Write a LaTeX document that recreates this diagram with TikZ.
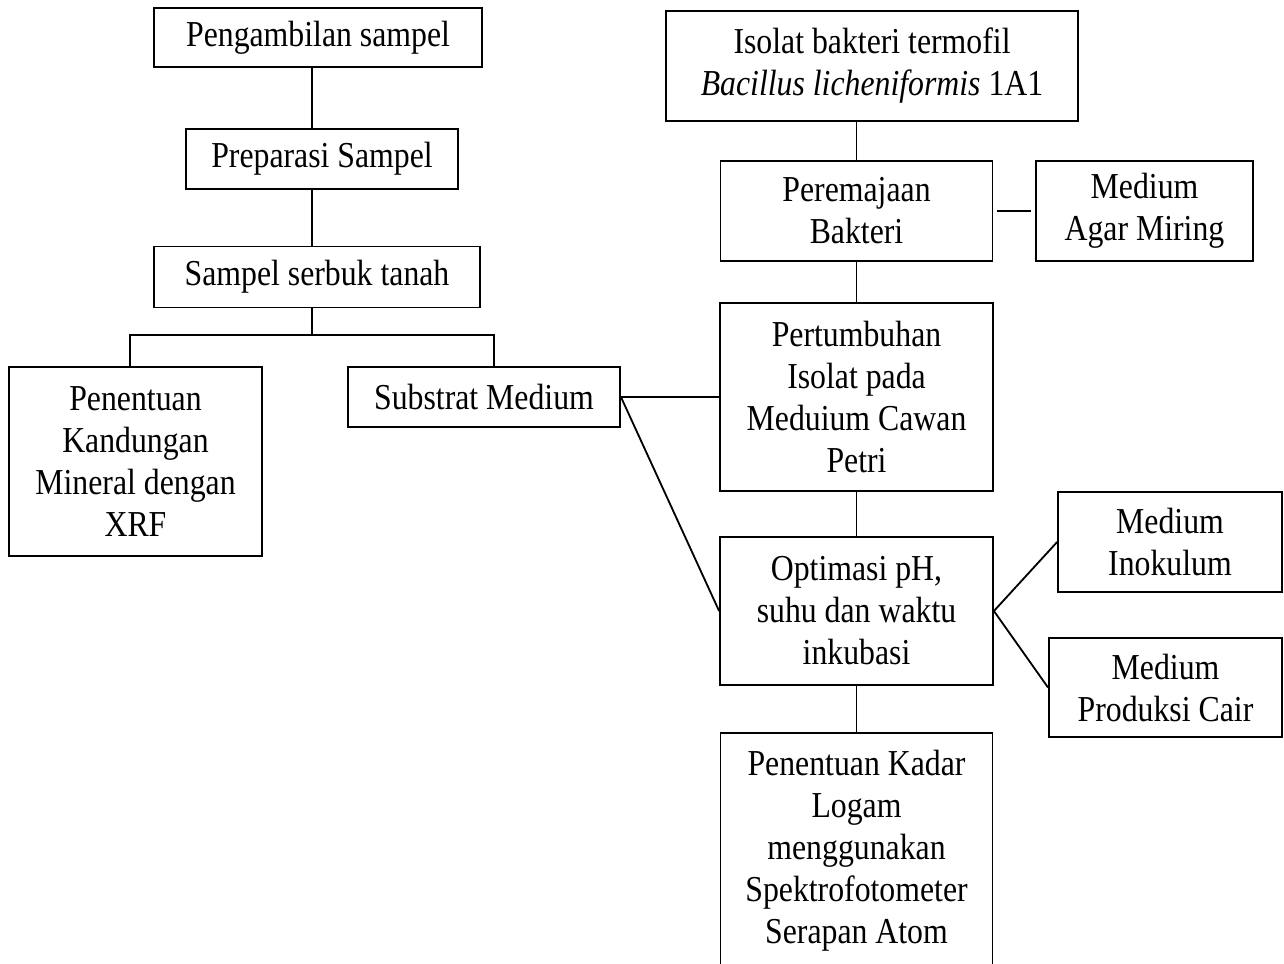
\documentclass[tikz,border=0pt]{standalone}
\usepackage{fontspec}
\setmainfont{Liberation Serif}[FakeStretch=0.87]
\usepackage{tikz}
\usetikzlibrary{positioning}

\begin{document}
\begin{tikzpicture}[
  x=0.3286pt, y=-0.3286pt,
  box/.style={draw,line width=0.6pt,align=center,inner sep=0pt,
    font=\fontsize{12}{13.8}\selectfont},
  link/.style={line width=0.6pt},
  gap/.style={link,shorten >=1.3pt,shorten <=1.3pt}]

  \useasboundingbox (0,0) rectangle (1284,963);
  \clip (0,0) rectangle (1284,963);

  % Left column: sample preparation
  \node[box,minimum width=107.8pt,minimum height=19.4pt] (peng) at (318,37.5) {Pengambilan sampel};
  \node[box,minimum width=89.4pt,minimum height=19.7pt] (prep) at (322,159) {Preparasi Sampel};
  \node[box,minimum width=107.1pt,minimum height=20pt] (serbuk) at (317,277) {Sampel serbuk tanah};
  \node[box,minimum width=83.1pt,minimum height=62.1pt] (xrf) at (135.5,461.5) {Penentuan\\Kandungan\\Mineral dengan\\XRF};
  \node[box,minimum width=89.4pt,minimum height=19.7pt] (substrat) at (484,397) {Substrat Medium};

  % Right column: bacteria
  \node[box,minimum width=135.4pt,minimum height=36.1pt] (isolat) at (872,66) {Isolat bakteri termofil\\\textit{Bacillus licheniformis} 1A1};
  \node[box,minimum width=89.4pt,minimum height=32.9pt] (remaja) at (856.5,211) {Peremajaan\\Bakteri};
  \node[box,minimum width=71.3pt,minimum height=32.9pt] (agar) at (1144.5,211) {Medium\\Agar Miring};
  \node[box,minimum width=89.7pt,minimum height=61.8pt] (tumbuh) at (856.5,397) {Pertumbuhan\\Isolat pada\\Meduium Cawan\\Petri};
  \node[box,minimum width=89.7pt,minimum height=48.6pt] (optimasi) at (856.5,611) {Optimasi pH,\\suhu dan waktu\\inkubasi};
  \node[box,minimum width=73.6pt,minimum height=32.9pt] (inokulum) at (1170,542) {Medium\\Inokulum};
  \node[box,minimum width=76.6pt,minimum height=32.5pt] (produksi) at (1165.5,687.5) {Medium\\Produksi Cair};
  \node[box,minimum width=89.4pt,minimum height=77.5pt] (kadar) at (856.5,851) {Penentuan Kadar\\Logam\\menggunakan\\Spektrofotometer\\Serapan Atom};

  % Stem and branch points
  \coordinate (stem) at (312,335);
  \coordinate (left) at (130,335);
  \coordinate (right) at (494,335);

  \draw[link] (peng.south -| stem) -- (prep.north -| stem);
  \draw[link] (prep.south -| stem) -- (serbuk.north -| stem);
  \draw[link] (serbuk.south -| stem) -- (stem);
  \draw[link] (xrf.north -| left) -- (left) -- (right) -- (substrat.north -| right);

  \draw[link] (isolat.south -| remaja.north) -- (remaja.north);
  \draw[gap] (remaja.east) -- (agar.west);
  \draw[link] (remaja.south) -- (tumbuh.north);
  \draw[link] (tumbuh.south) -- (optimasi.north);
  \draw[link] (optimasi.south) -- (kadar.north);
  \draw[link] (substrat.east) -- (tumbuh.west);
  \draw[link] (substrat.east) -- (optimasi.west);
  \draw[link] (optimasi.east) -- (inokulum.west);
  \draw[link] (optimasi.east) -- (produksi.west);
\end{tikzpicture}
\end{document}
